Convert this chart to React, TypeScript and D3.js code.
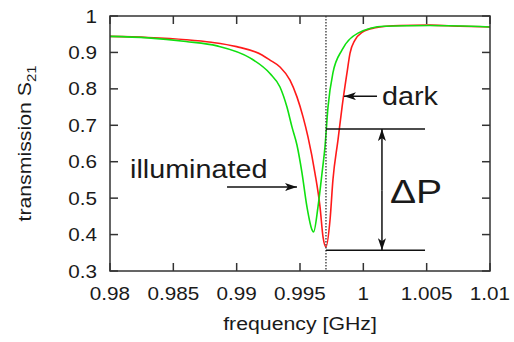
import React from "react";
import * as d3 from "d3";

const xTicks = [0.98, 0.985, 0.99, 0.995, 1, 1.005, 1.01];
const xTickLabels = ["0.98", "0.985", "0.99", "0.995", "1", "1.005", "1.01"];
const yTicks = [0.3, 0.4, 0.5, 0.6, 0.7, 0.8, 0.9, 1];
const yTickLabels = ["0.3", "0.4", "0.5", "0.6", "0.7", "0.8", "0.9", "1"];

// dark (red) curve
const darkFreq = [0.98, 0.983, 0.986, 0.988, 0.99, 0.992, 0.99263, 0.99342, 0.99421, 0.99476, 0.99524, 0.99563, 0.99618, 0.99658, 0.99682, 0.99705, 0.99737, 0.9976, 0.998, 0.99832, 0.99871, 0.99895, 0.99934, 0.9999, 1.00084, 1.0029, 1.00526, 1.00763, 1.01];
const darkS21 = [0.944, 0.941, 0.935, 0.928, 0.916, 0.893, 0.879, 0.86, 0.824, 0.778, 0.723, 0.668, 0.569, 0.476, 0.393, 0.366, 0.44, 0.55, 0.66, 0.75, 0.844, 0.898, 0.934, 0.955, 0.967, 0.974, 0.975, 0.972, 0.97];

// illuminated (green) curve
const illumFreq = [0.98, 0.983, 0.986, 0.98845, 0.99105, 0.99263, 0.99342, 0.99397, 0.99437, 0.99476, 0.99516, 0.99555, 0.99595, 0.99607, 0.99642, 0.99674, 0.99697, 0.99721, 0.9976, 0.99832, 0.99958, 1.00163, 1.00526, 1.01];
const illumS21 = [0.944, 0.94, 0.93, 0.918, 0.885, 0.842, 0.805, 0.75, 0.695, 0.646, 0.569, 0.476, 0.413, 0.407, 0.476, 0.569, 0.64, 0.75, 0.844, 0.907, 0.953, 0.972, 0.974, 0.97];

const markerFreq = 0.99705;
const deltaTop = 0.69;
const deltaBottom = 0.357;
const deltaLineEnd = 1.00487;
const deltaArrowFreq = 1.00147;

const W = 514, H = 342;
const left = 110, right = 490, top = 16, bottom = 271;
const SX = 1.15;
const FONT = "'Liberation Sans', Arial, sans-serif";

function T({ x, y, size, anchor = "start", children, rot = 0 }: any) {
  return (
    <text
      transform={`translate(${x},${y}) rotate(${rot}) scale(${SX},1)`}
      fontSize={size}
      fontFamily={FONT}
      textAnchor={anchor}
      fill="#1a1a1a"
    >
      {children}
    </text>
  );
}

export default function App() {
  const x = d3.scaleLinear().domain([0.98, 1.01]).range([left, right]);
  const y = d3.scaleLinear().domain([0.3, 1]).range([bottom, top]);
  const line = d3
    .line<[number, number]>()
    .x((d) => x(d[0]))
    .y((d) => y(d[1]))
    .curve(d3.curveMonotoneX);
  const darkPts = darkFreq.map((f, i) => [f, darkS21[i]] as [number, number]);
  const illumPts = illumFreq.map((f, i) => [f, illumS21[i]] as [number, number]);
  const tick = 8;
  const axisColor = "#333";

  return (
    <svg width={W} height={H} style={{ position: "absolute", left: 0, top: 0, background: "#fff" }}>
      <defs>
        <clipPath id="plot">
          <rect x={left} y={top} width={right - left} height={bottom - top} />
        </clipPath>
        <marker id="ah" viewBox="0 0 12 8" refX="12" refY="4" markerWidth="12" markerHeight="8" markerUnits="userSpaceOnUse" orient="auto">
          <path d="M0,0 L12,4 L0,8 L3,4 Z" fill="#111" />
        </marker>
      </defs>

      <g clipPath="url(#plot)">
        <path d={line(darkPts) || ""} fill="none" stroke="#ff1a1a" strokeWidth={1.6} />
        <path d={line(illumPts) || ""} fill="none" stroke="#10e010" strokeWidth={1.6} />
      </g>

      {/* dotted marker line */}
      <line x1={x(markerFreq)} x2={x(markerFreq)} y1={y(1)} y2={y(0.3)} stroke="#333" strokeWidth={1.3} strokeDasharray="1.5,1.5" />

      {/* ΔP lines */}
      <line x1={x(markerFreq)} x2={x(deltaLineEnd)} y1={y(deltaTop)} y2={y(deltaTop)} stroke="#111" strokeWidth={1.5} />
      <line x1={x(markerFreq)} x2={x(deltaLineEnd)} y1={y(deltaBottom)} y2={y(deltaBottom)} stroke="#111" strokeWidth={1.5} />
      <line x1={x(deltaArrowFreq)} x2={x(deltaArrowFreq)} y1={y(0.52)} y2={y(deltaTop)} stroke="#111" strokeWidth={1.5} markerEnd="url(#ah)" />
      <line x1={x(deltaArrowFreq)} x2={x(deltaArrowFreq)} y1={y(0.52)} y2={y(deltaBottom)} stroke="#111" strokeWidth={1.5} markerEnd="url(#ah)" />

      {/* dark annotation */}
      <line x1={x(1.00108)} x2={x(0.99847)} y1={y(0.78)} y2={y(0.78)} stroke="#111" strokeWidth={1.5} markerEnd="url(#ah)" />
      <T x={x(1.00147)} y={y(0.757)} size={25}>dark</T>

      {/* illuminated annotation */}
      <line x1={x(0.98924)} x2={x(0.99476)} y1={y(0.5306)} y2={y(0.5306)} stroke="#111" strokeWidth={1.5} markerEnd="url(#ah)" />
      <T x={x(0.98158)} y={y(0.5553)} size={25}>illuminated</T>

      <T x={x(1.0021)} y={y(0.4867)} size={34}>ΔP</T>

      {/* frame */}
      <rect x={left} y={top} width={right - left} height={bottom - top} fill="none" stroke={axisColor} strokeWidth={1.5} />
      {xTicks.map((t, i) => (
        <g key={"x" + i}>
          <line x1={x(t)} x2={x(t)} y1={bottom} y2={bottom - tick} stroke={axisColor} strokeWidth={1.5} />
          <line x1={x(t)} x2={x(t)} y1={top} y2={top + tick} stroke={axisColor} strokeWidth={1.5} />
          <T x={x(t)} y={bottom + 29} size={18} anchor="middle">{xTickLabels[i]}</T>
        </g>
      ))}
      {yTicks.map((t, i) => (
        <g key={"y" + i}>
          <line x1={left} x2={left + tick} y1={y(t)} y2={y(t)} stroke={axisColor} strokeWidth={1.5} />
          <line x1={right} x2={right - tick} y1={y(t)} y2={y(t)} stroke={axisColor} strokeWidth={1.5} />
          <T x={97} y={y(t) + 6.5} size={18} anchor="end">{yTickLabels[i]}</T>
        </g>
      ))}

      <T x={(left + right) / 2} y={330} size={18.5} anchor="middle">frequency [GHz]</T>
      <T x={31} y={(top + bottom) / 2} size={18.5} anchor="middle" rot={-90}>
        transmission S<tspan fontSize={13} dy={5}>21</tspan>
      </T>
    </svg>
  );
}
